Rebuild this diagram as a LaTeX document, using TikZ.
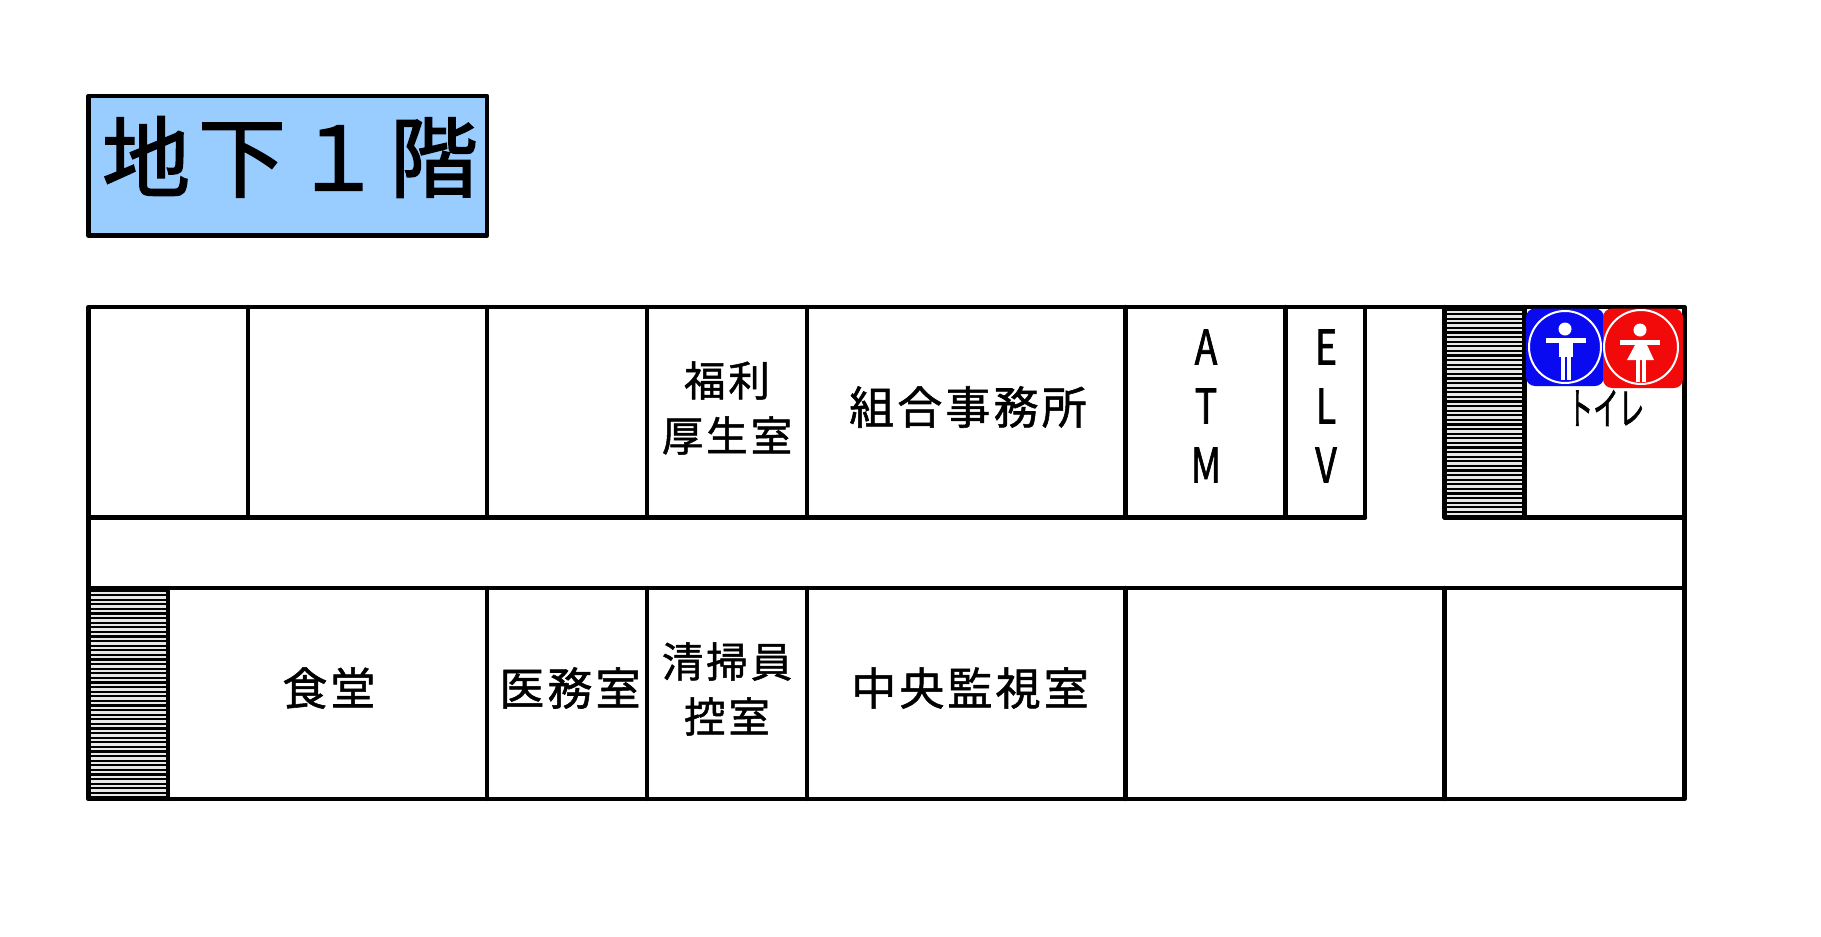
\documentclass[tikz,border=0pt]{standalone}
\usepackage{fontspec}
\newfontfamily\jp[LetterSpace=7,FakeBold=1.2]{Noto Sans CJK JP}
\newfontfamily\jptitle[LetterSpace=9,FakeBold=1.8]{Noto Sans CJK JP}
\newfontfamily\jpplain[FakeBold=1.6]{Noto Sans CJK JP}
\definecolor{titlefill}{HTML}{99CCFF}
\definecolor{stairfill}{HTML}{E8E8E8}
\definecolor{iconblue}{HTML}{0A0AF0}
\definecolor{iconred}{HTML}{F20A0A}
\tikzset{
  wall/.style={draw=black,line width=4.4pt,line cap=round,line join=round},
  stairbg/.style={fill=stairfill,draw=none},
  stairline/.style={draw=black,line width=2.1pt},
  roomlabel/.style={inner sep=0pt,align=center,font=\jp\fontsize{45}{55}\selectfont},
  stackedlabel/.style={inner sep=0pt,align=center,font=\jp\fontsize{41.5}{55}\selectfont},
  vertlabel/.style={inner sep=0pt,align=center,xscale=.78,transform shape,font=\jpplain\fontsize{48}{59}\selectfont},
  iconring/.style={draw=white,line width=2pt},
  figure/.style={fill=white,draw=none},
}
\begin{document}
\begin{tikzpicture}[x=1pt,y=-1pt]
\useasboundingbox (0,0) rectangle (1821,937);
\fill[white] (0,0) rectangle (1821,937);
% title
\draw[wall,fill=titlefill] (88.5,96) rectangle (487,235.5);
\node[inner sep=0pt,font=\jptitle\fontsize{88}{88}\selectfont] (title) at (290,157) {地下１階};
% stairs
\fill[stairbg] (88.5,588) rectangle (168,799);
\foreach \i in {0,...,45} \draw[stairline] (88.5,{590.5+\i*4.6}) -- (168,{590.5+\i*4.6});
\fill[stairbg] (1444.6,307) rectangle (1524.5,518);
\foreach \i in {0,...,45} \draw[stairline] (1444.6,{309.5+\i*4.6}) -- (1524.5,{309.5+\i*4.6});
% outer and corridor walls
\draw[wall] (88.5,307) rectangle (1684.5,799);
\draw[wall] (88.5,517.5) -- (1365,517.5);
\draw[wall] (1444.6,517.5) -- (1684.5,517.5);
\draw[wall] (88.5,588) -- (1684.5,588);
% upper partitions
\foreach \x in {248,487,647,807,1125.5,1285.5,1365,1444.6,1524.5}
  \draw[wall] (\x,307) -- (\x,517.5);
% lower partitions
\foreach \x in {168,487,647,807,1125.5,1444.6}
  \draw[wall] (\x,588) -- (\x,799);
% labels
\node[stackedlabel] (fukuri) at (727,408) {福利\\厚生室};
\node[roomlabel] (kumiai) at (968,407) {組合事務所};
\node[vertlabel] (atm) at (1206,406) {A\\T\\M};
\node[vertlabel] (elv) at (1326,406) {E\\L\\V};
\node[roomlabel] (shokudo) at (329,688) {食堂};
\node[roomlabel] (imu) at (570,688) {医務室};
\node[stackedlabel] (seiso) at (727,689) {清掃員\\控室};
\node[roomlabel] (chuo) at (970,688) {中央監視室};
\node[inner sep=0pt,xscale=.58,transform shape,font=\jpplain\fontsize{44}{44}\selectfont] (toilet) at (1606,408) {トイレ};
% men's sign
\fill[iconblue,rounded corners=9pt] (1526,308.5) rectangle (1604,386);
\draw[iconring] (1565,347) circle (36);
\fill[figure] (1565,329) circle (6.5);
\fill[figure] (1546,338) rectangle (1586,343);
\fill[figure] (1559,340) rectangle (1573,357);
\fill[figure] (1561,357) rectangle (1565,380);
\fill[figure] (1567,357) rectangle (1571,380);
% women's sign
\fill[iconred,rounded corners=9pt] (1603,308.5) rectangle (1683,388);
\draw[iconring] (1641,347) circle (37);
\fill[figure] (1640,330) circle (6.5);
\fill[figure] (1620,340) rectangle (1660,345);
\fill[figure] (1635,345) -- (1647,345) -- (1654,360) -- (1627,360) -- cycle;
\fill[figure] (1635.5,360) rectangle (1639.5,382);
\fill[figure] (1641.5,360) rectangle (1645.5,382);
\end{tikzpicture}
\end{document}
